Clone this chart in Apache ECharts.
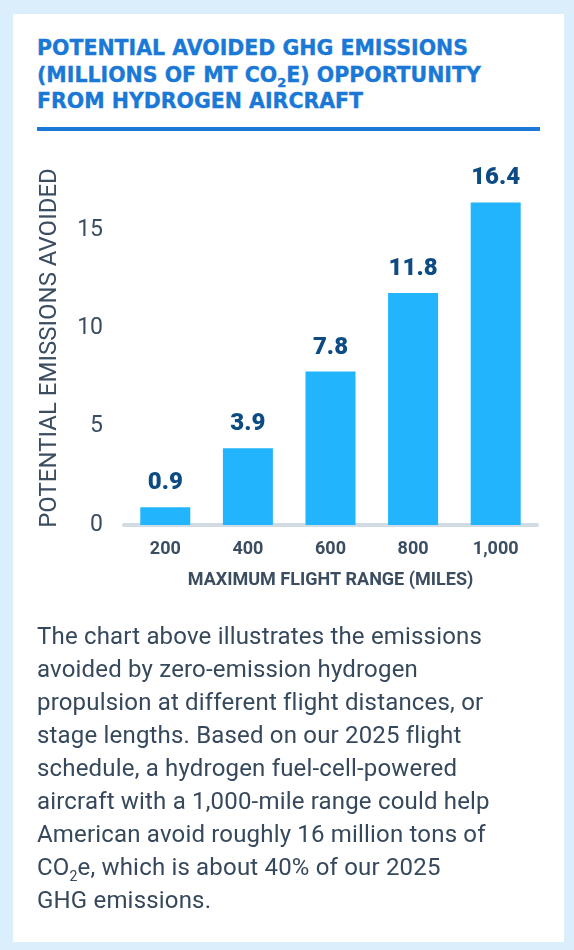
<!DOCTYPE html>
<html>
<head>
<meta charset="utf-8">
<script src="https://cdn.jsdelivr.net/npm/echarts@6/dist/echarts.min.js"></script>
<style>
  html, body { margin: 0; padding: 0; }
  body { width: 574px; height: 950px; background: #daeefc; position: relative; overflow: hidden; font-family: Roboto, "Noto Sans", sans-serif; }
  #card { position: absolute; left: 13px; top: 14px; width: 551px; height: 928px; background: #ffffff; }
  #title { position: absolute; left: 37px; top: 35px; font-family: "DejaVu Sans", sans-serif; font-weight: bold; font-size: 20.5px; line-height: 26.5px; color: #1a78d6; white-space: nowrap; -webkit-text-stroke: 0.35px #1a78d6; }
  #title sub { font-size: 13px; vertical-align: -5px; line-height: 0; }
  #rule { position: absolute; left: 37px; top: 127px; width: 503px; height: 4px; background: #1a78d6; }
  #chart { position: absolute; left: 0; top: 0; width: 574px; height: 950px; }
  #para { position: absolute; left: 37px; top: 620px; font-size: 24px; line-height: 33px; letter-spacing: 0.18px; color: #36485c; white-space: nowrap; }
  #para sub { font-size: 14px; vertical-align: -6px; line-height: 0; }
</style>
</head>
<body>
<div id="card"></div>
<div id="title">POTENTIAL AVOIDED GHG EMISSIONS<br>(MILLIONS OF MT CO<sub>2</sub>E) OPPORTUNITY<br>FROM HYDROGEN AIRCRAFT</div>
<div id="rule"></div>
<div id="chart"></div>
<div id="para">The chart above illustrates the emissions<br>avoided by zero-emission hydrogen<br>propulsion at different flight distances, or<br>stage lengths. Based on our 2025 flight<br>schedule, a hydrogen fuel-cell-powered<br>aircraft with a 1,000-mile range could help<br>American avoid roughly 16 million tons of<br>CO<sub>2</sub>e, which is about 40% of our 2025<br>GHG emissions.</div>
<script>
const categories = ['200', '400', '600', '800', '1,000'];
const values = [0.9, 3.9, 7.8, 11.8, 16.4];
const xAxisName = 'MAXIMUM FLIGHT RANGE (MILES)';
const yAxisName = 'POTENTIAL EMISSIONS AVOIDED';
const yTickStep = 5;

const chart = echarts.init(document.getElementById('chart'), null, { renderer: 'canvas' });
chart.setOption({
  backgroundColor: 'transparent',
  animation: false,
  grid: { left: 124, right: 37, top: 171, bottom: 425, containLabel: false },
  xAxis: {
    type: 'category',
    data: categories,
    name: xAxisName,
    nameLocation: 'middle',
    nameGap: 46,
    nameTextStyle: { fontFamily: 'Roboto', fontWeight: 'bold', fontSize: 18, color: '#3b4d61' },
    axisLine: { show: true, lineStyle: { color: '#d0dbe3', width: 4 } },
    axisTick: { show: false },
    axisLabel: { margin: 15, fontFamily: 'Roboto', fontWeight: 'bold', fontSize: 18, color: '#3b4d61' }
  },
  yAxis: {
    type: 'value',
    min: 0,
    max: 18,
    interval: yTickStep,
    name: yAxisName,
    nameLocation: 'middle',
    nameGap: 62,
    nameRotate: 90,
    nameTextStyle: { fontFamily: 'Roboto', fontSize: 24, color: '#3b4d61' },
    axisLine: { show: false },
    axisTick: { show: false },
    splitLine: { show: false },
    axisLabel: {
      margin: 21,
      showMaxLabel: false,
      fontFamily: 'Roboto',
      fontSize: 23,
      color: '#3b4d61',
      formatter: v => (v % yTickStep === 0 ? String(v) : '')
    }
  },
  series: [{
    type: 'bar',
    data: values,
    barWidth: 50,
    itemStyle: { color: '#22b4fc' },
    label: {
      show: true,
      position: 'top',
      distance: 12,
      fontFamily: 'Roboto',
      fontWeight: 900,
      fontSize: 24,
      color: '#0d4b84',
      formatter: p => p.value.toFixed(1)
    }
  }]
});
</script>
</body>
</html>
